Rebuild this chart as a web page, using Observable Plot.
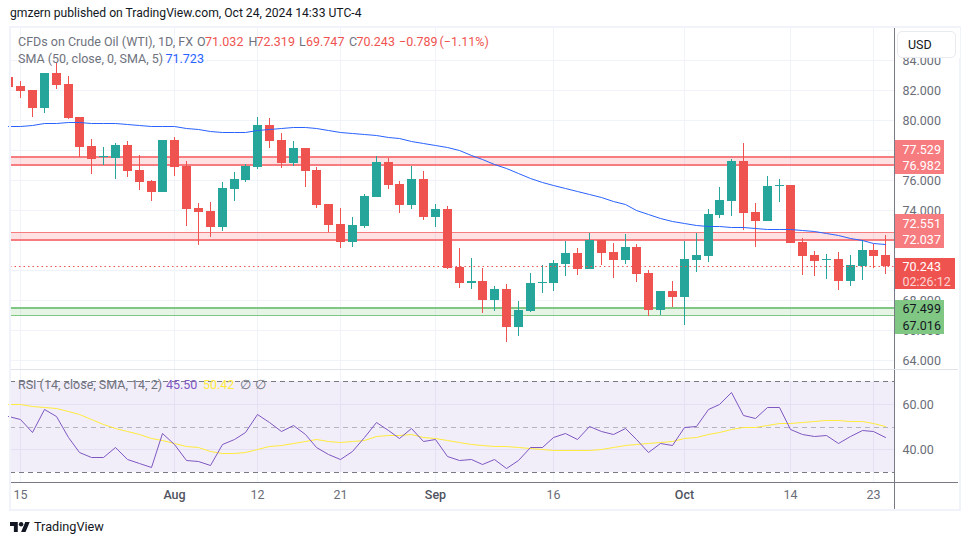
<!DOCTYPE html>
<html>
<head>
<meta charset="utf-8">
<script src="https://cdn.jsdelivr.net/npm/d3@7"></script>
<script src="https://cdn.jsdelivr.net/npm/@observablehq/plot@0.6"></script>
<style>
html,body{margin:0;padding:0;background:#fff;width:970px;height:545px;overflow:hidden;font-family:Roboto,sans-serif;}
#wrap{position:relative;width:970px;height:545px;}
#wrap svg{position:absolute;left:0;}
.t{position:absolute;white-space:pre;line-height:16px;font-size:12.5px;}
#frame{position:absolute;left:9px;top:26px;width:948px;height:481px;border:2px solid #f0f3fa;}
#usd{position:absolute;left:894.5px;top:28px;width:65px;height:30px;background:#fff;}
#usdb{position:absolute;left:897px;top:31px;width:57px;height:25px;border:1px solid #e8eaf0;border-radius:5px;background:#fff;color:#131722;font-size:12.5px;line-height:25px;text-indent:10px;}
.g{color:#6f727d}.r{color:#ef5350}
</style>
</head>
<body>
<div id="wrap"></div>
<script>
const opens=[82.87,82.27,82,80.8,83.13,82.4,80.2,78.27,77.53,77.47,
78.33,76.67,75.93,75.2,78.67,76.93,74.13,73.93,72.87,75.4,
76,76.87,79.67,78.67,77.13,78.13,76.67,74.4,73.07,71.87,
72.93,74.87,77.2,75.73,74.33,76.07,73.53,74.07,70.2,69.13,
69.27,68,68.73,66.2,67.27,69.13,69.13,70.4,71.13,70.07,
72,71.2,70.67,71.53,69.8,67.33,68.6,68.2,70.67,70.93,
73.67,74.6,77.27,73.87,73.27,75.6,75.67,71.87,71,70.67,
70.73,69.27,70.27,71.33,71.032];
const closes=[82.2,81.93,80.8,83.13,82.33,80.13,78.2,77.4,77.6,78.33,
76.6,75.87,75.2,78.67,76.87,74.07,73.87,72.87,75.47,76.07,
76.93,79.67,78.6,77.13,78.13,76.6,74.33,73,71.87,73,
74.93,77.2,75.67,74.33,76.07,73.53,74.07,70.13,69.13,69.27,
68,68.73,66.2,67.33,69.13,69.2,70.47,71.13,70.07,72,
71.13,70.67,71.53,69.73,67.33,68.6,68.2,70.73,71,73.73,
74.67,77.27,73.8,73.27,75.6,75.67,71.8,70.93,70.6,70.73,
69.27,70.33,71.33,70.93,70.243];
const highs=[82.87,82.6,82,83.13,83.8,82.93,80.2,78.73,78.2,78.47,
78.6,77.67,76,78.67,78.87,77.27,74.47,74.53,75.87,76.53,
77.07,80.2,80.13,79.13,78.6,78.13,76.87,74.4,74.13,73.53,
75.07,77.6,77.47,75.93,76.93,76.6,74.4,74.27,71.47,70.8,
70.13,68.93,69.07,67.93,69.8,70.33,70.67,71.93,71.47,72.47,
72,71.8,72.4,71.73,70,68.6,69.27,71.93,72.47,74.07,
75.53,77.4,78.47,74.47,76.27,76.07,75.67,72.13,71.27,71.07,
71.2,71,72,71.73,72.319];
const lows=[82.2,81.47,80.2,80.47,82.07,80.07,77.53,76.4,77,76.07,
76.2,75.33,74.6,75.2,76.27,72.93,71.67,72.2,72.6,74.6,
75.87,76.73,78.13,76.8,76.93,75.53,74.13,72.53,71.47,71.53,
72.8,74.87,75.4,73.8,74.07,73.33,72.87,70.07,68.8,68.73,
67.13,67.27,65.2,65.6,67.2,68.47,68.6,69.6,69.67,70.07,
70.33,69.47,70.4,69.2,66.93,67,67.53,66.33,69.87,70.53,
73.47,73.6,72.67,71.53,73.27,74.53,71.8,69.67,69.6,69.4,
68.67,68.93,69.33,70.13,69.747];
const sma50=[79.57,79.63,79.7,79.77,79.83,79.87,79.87,79.83,79.8,79.78,
79.75,79.67,79.57,79.6,79.6,79.5,79.4,79.27,79.2,79.18,
79.18,79.33,79.41,79.47,79.53,79.55,79.45,79.33,79.2,79.11,
79.07,79,78.9,78.77,78.63,78.49,78.35,78.17,77.98,77.7,
77.38,77.1,76.82,76.47,76.13,75.87,75.65,75.47,75.29,75.07,
74.87,74.63,74.4,74,73.73,73.45,73.27,73.15,73,72.91,
72.9,72.89,72.87,72.8,72.75,72.75,72.75,72.69,72.62,72.47,
72.31,72.13,71.98,71.83,71.72];
const rsi=[54.7,53.5,47.7,57.8,54.4,45.2,38.7,36.6,36.8,41.1,
35.9,34,32.2,47,42.3,35.3,34.8,32.9,42.4,44.6,
47.4,55.3,52,48,50.7,46.7,40.9,38,35.7,39.3,
45.4,51.9,48.5,44.9,49.5,43.7,44.6,37.2,35.4,35.6,
33.7,35.9,31.6,35.3,41.1,41.2,45.2,47.1,44.6,50.1,
47.9,46.7,49.2,44.6,38.6,42.6,41.8,49.7,50.2,57.7,
59.9,65.1,55,53.7,58.4,58.5,48.8,46.8,45.9,46.1,
42.7,45.7,48.6,47.9,45.5];
const rsiSma=[59.8,59.8,58.9,58.7,58.3,57,55.3,53.1,50.9,49.4,
48.2,46.7,44.8,43.9,42.7,41.6,40.8,39.2,38.3,38.2,
38.7,40.1,41.3,41.9,42.9,43.8,44.4,43.8,43.3,43.5,
44.2,45.7,46.2,46.3,46.5,45.3,45.1,44.1,43.1,42.5,
41.9,41.6,41.3,41,40.4,39.9,39.6,39.8,39.5,39.8,
40.1,40.8,41.9,42.5,42.7,43.2,43.8,44.8,45.6,46.7,
47.8,49.1,49.9,50,50.7,51.5,51.5,51.8,52.4,52.7,
52.8,52.5,52.4,51.6,50.4];
const timeDayIdx=[1,21,28,46,66,73];
const timeDayLabels=["15","12","21","16","14","23"];
const timeMonthIdx=[14,36,57];
const timeMonthLabels=["Aug","Sep","Oct"];
const priceGrid=[64,66,68,70,72,74,76,78,80,82,84];
const priceLabels=[64,66,68,74,76,80,82,84];
const rsiTicks=[40,60];
const rsiBands=[70,30];
const zoneHi=[77.529,72.551,67.499];
const zoneLo=[76.982,72.037,67.016];
const lastPrice=70.243;
const smaLast=71.723;

const idx=d3.range(opens.length);
const xLeft=(10-8.39)/11.85,xRight=(894-8.39)/11.85,xTagRed=(944-8.39)/11.85,xTagLast=(955-8.39)/11.85,xTagText=(902-8.39)/11.85;
const green="#26a69a",red="#ef5350",axisCol="#787b86",grid="#f0f3fa";
const upI=idx.filter(i=>closes[i]>=opens[i]),dnI=idx.filter(i=>closes[i]<opens[i]);
const allTicks=timeDayIdx.concat(timeMonthIdx);
const xScale={type:"linear",domain:[xLeft,xRight],range:[10,894],round:true,axis:null};
const font='Roboto,sans-serif';

const candles=(ii,c)=>[
 Plot.ruleX(ii,{x:i=>i,y1:i=>lows[i],y2:i=>highs[i],stroke:c,strokeWidth:1,clip:true}),
 Plot.ruleX(ii,{x:i=>i,y1:i=>opens[i],y2:i=>closes[i],stroke:c,strokeWidth:9,clip:true})
];
const tagBox=(h,l,x2,f)=>Plot.rect([0],{x1:xRight+0.03,x2,y1:h,y2:l,fill:f});
const tagTxt=(t,y,dy,f,o=1)=>Plot.text([t],{x:xTagText,y:()=>y,dy,text:d=>d,fill:f,fillOpacity:o,textAnchor:"start",fontSize:12.5});

const price=Plot.plot({
 width:970,height:370,marginLeft:10,marginRight:76,marginTop:28,marginBottom:1,
 style:{background:"transparent",fontFamily:font},
 x:xScale,
 y:{domain:[88-28/15,88-369/15],range:[28,369],round:true},
 marks:[
  Plot.ruleY(priceGrid,{stroke:grid}),
  Plot.ruleX(allTicks,{stroke:grid}),
  Plot.rect(zoneHi.slice(0,2),{x1:xLeft,x2:xRight,y1:d=>d,y2:(d,i)=>zoneLo[i],fill:"#f23645",fillOpacity:0.15}),
  Plot.rect(zoneHi.slice(2),{x1:xLeft,x2:xRight,y1:d=>d,y2:()=>zoneLo[2],fill:"#81c784",fillOpacity:0.2}),
  Plot.ruleY([zoneHi[0],zoneLo[0]],{stroke:"#f77c80",strokeWidth:2,dy:-0.5}),
  Plot.ruleY([zoneLo[1]],{stroke:"#f77c80",strokeWidth:2,dy:0.5}),
  Plot.ruleY([zoneHi[1]],{stroke:"#f77c80",strokeWidth:1}),
  Plot.ruleY([zoneHi[2]],{stroke:"#81c784",strokeWidth:2,dy:-0.5}),
  Plot.ruleY([zoneLo[2]],{stroke:"#81c784",strokeWidth:1}),
  ...candles(upI,green),
  ...candles(dnI,red),
  Plot.line(idx,{x:i=>i,y:i=>sma50[i],stroke:"#2962ff",strokeWidth:1,curve:"linear"}),
  Plot.ruleY([lastPrice],{stroke:red,strokeDasharray:"1.5,3"}),
  Plot.axisY({anchor:"right",ticks:priceLabels,tickFormat:d3.format(".3f"),tickSize:0,tickPadding:8,fontSize:12.5,fill:"#6a6d78",label:null}),
  tagBox(78.67,76.4,xTagRed,"#f77c80"),
  tagBox(73.73,71.47,xTagRed,"#f77c80"),
  tagBox(68,65.73,xTagRed,"#81c784"),
  tagBox(70.8,68.73,xTagLast,red),
  tagTxt("77.529",zoneHi[0],-8,"#fff"),
  tagTxt("76.982",zoneLo[0],0,"#fff"),
  tagTxt("72.551",zoneHi[1],-8.5,"#fff"),
  tagTxt("72.037",zoneLo[1],0,"#fff"),
  tagTxt("67.499",zoneHi[2],0,"#131722"),
  tagTxt("67.016",zoneLo[2],10,"#131722"),
  tagTxt("70.243",lastPrice,0.5,"#fff"),
  tagTxt("02:26:12",lastPrice,15,"#fff",0.75)
 ]
});
price.style.top="0px";

const rsiPlot=Plot.plot({
 width:970,height:140,marginLeft:10,marginRight:76,marginTop:0,marginBottom:28,
 style:{background:"transparent",fontFamily:font},
 x:xScale,
 y:{domain:[70+11/2.275,30-10/2.275],range:[0,112],round:true},
 marks:[
  Plot.ruleX(allTicks,{stroke:grid}),
  Plot.rect([0],{x1:xLeft,x2:xRight,y1:rsiBands[0],y2:rsiBands[1],fill:"#7e57c2",fillOpacity:0.1}),
  Plot.ruleX(allTicks,{y1:rsiBands[0],y2:rsiBands[1],stroke:"#e6e0f5"}),
  Plot.ruleY(rsiTicks,{stroke:"#e6e0f5"}),
  Plot.ruleY(rsiBands,{stroke:axisCol,strokeDasharray:"5,4"}),
  Plot.ruleY([50],{stroke:axisCol,strokeOpacity:0.5,strokeDasharray:"5,4"}),
  Plot.line(idx,{x:i=>i,y:i=>rsiSma[i],stroke:"#ffeb3b",strokeWidth:1}),
  Plot.line(idx,{x:i=>i,y:i=>rsi[i],stroke:"#7e57c2",strokeWidth:1}),
  Plot.axisY({anchor:"right",ticks:rsiTicks,tickFormat:d3.format(".2f"),tickSize:0,tickPadding:8,fontSize:12.5,fill:"#6a6d78",label:null}),
  Plot.axisX({anchor:"bottom",ticks:timeDayIdx,tickFormat:d=>timeDayLabels[timeDayIdx.indexOf(d)],tickSize:0,tickPadding:8,fontSize:12.5,fill:"#6a6d78",label:null}),
  Plot.axisX({anchor:"bottom",ticks:timeMonthIdx,tickFormat:d=>timeMonthLabels[timeMonthIdx.indexOf(d)],tickSize:0,tickPadding:8,fontSize:12.5,fontWeight:500,fill:"#50535e",label:null})
 ]
});
rsiPlot.style.top="370px";

const wrap=document.getElementById("wrap");
wrap.appendChild(price);
wrap.appendChild(rsiPlot);
const tok=(x,y,txt,cls,col,fs)=>`<div class="t ${cls}" style="left:${x}px;top:${y}px;${col?`color:${col};`:""}${fs?`font-size:${fs}px;`:""}">${txt}</div>`;
wrap.insertAdjacentHTML("beforeend",`
<div id="frame"></div>
${tok(10,5,"gmzern published on TradingView.com, Oct 24, 2024 14:33 UTC-4","","#131722",12.15)}
${tok(18,34,"CFDs on Crude Oil (WTI), 1D, FX","g")}
${tok(197,34,"O","g")}${tok(205,34,"71.032","r")}
${tok(248.5,34,"H","g")}${tok(256.5,34,"72.319","r")}
${tok(299,34,"L","g")}${tok(306,34,"69.747","r")}
${tok(349,34,"C","g")}${tok(356.5,34,"70.243","r")}
${tok(399,34,"−0.789","r")}${tok(439.5,34,"(−1.11%)","r")}
${tok(18,51,"SMA (50, close, 0, SMA, 5)","g")}${tok(165.5,51,String(smaLast),"","#2962ff")}
${tok(18,377,"RSI (14, close, SMA, 14, 2)","g")}
${tok(166,377,"45.50","","#7e57c2")}${tok(203,377,"50.42","","#ffeb3b")}
${tok(240,377,"∅","g")}${tok(255,377,"∅","g")}
${tok(34,519,"TradingView","","#131722",12.7)}
<svg style="left:10px;top:521px" width="20" height="12" viewBox="0 3 36 20"><path d="M14 22H7V11H0V4h14v18zM28 22h-8l7.5-18h8L28 22z" fill="#131722"/><circle cx="20" cy="8" r="4" fill="#131722"/></svg>
<div style="position:absolute;left:894px;top:28px;width:1px;height:481px;background:${axisCol}"></div>
<div style="position:absolute;left:11px;top:482px;width:947px;height:1px;background:${axisCol}"></div>
<div style="position:absolute;left:11px;top:369px;width:947px;height:1px;background:#e0e3eb"></div>
<div id="usd"></div><div id="usdb">USD</div>`);
</script>
</body>
</html>
